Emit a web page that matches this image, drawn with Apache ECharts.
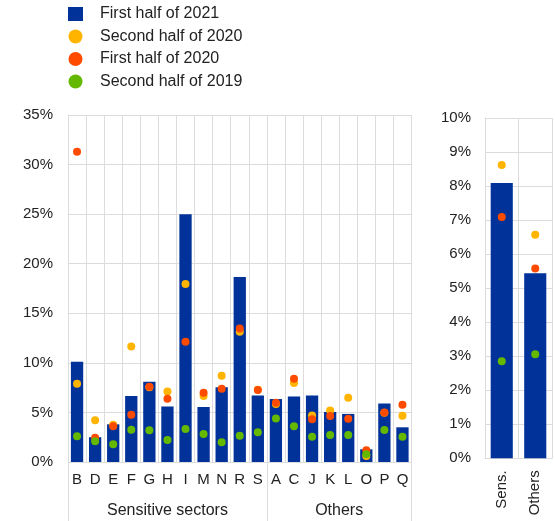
<!DOCTYPE html>
<html>
<head>
<meta charset="utf-8">
<script src="https://cdn.jsdelivr.net/npm/echarts@6/dist/echarts.min.js"></script>
<style>
  html, body { margin: 0; padding: 0; background: #ffffff; }
  #chart { width: 555px; height: 521px; }
</style>
</head>
<body>
<div id="chart"></div>
<script>
// ---- Data ----
const sectorCategories = ['B','D','E','F','G','H','I','M','N','R','S','A','C','J','K','L','O','P','Q'];
const groupNames = ['Sensitive sectors', 'Others'];
const groupSizes = [11, 8];

const seriesNames = ['First half of 2021', 'Second half of 2020', 'First half of 2020', 'Second half of 2019'];

const sectorH1_2021 = [10.1, 2.5, 3.8, 6.65, 8.1, 5.6, 25.0, 5.55, 7.55, 18.65, 6.7, 6.35, 6.6, 6.7, 5.05, 4.85, 1.28, 5.9, 3.5];
const sectorH2_2020 = [7.9, 4.2, 3.75, 11.65, 7.55, 7.1, 17.95, 6.65, 8.7, 13.13, 7.3, 5.85, 7.96, 4.7, 5.2, 6.48, 0.6, 4.97, 4.67];
const sectorH1_2020 = [31.3, 2.45, 3.6, 4.77, 7.6, 6.38, 12.13, 6.99, 7.39, 13.47, 7.26, 5.98, 8.4, 4.3, 4.64, 4.37, 1.18, 5.0, 5.78];
const sectorH2_2019 = [2.6, 2.1, 1.8, 3.26, 3.2, 2.22, 3.33, 2.82, 1.98, 2.65, 2.99, 4.4, 3.6, 2.55, 2.72, 2.72, 0.78, 3.22, 2.55];

const aggCategories = ['Sens.', 'Others'];
const aggH1_2021 = [8.09, 5.44];
const aggH2_2020 = [8.62, 6.57];
const aggH1_2020 = [7.09, 5.58];
const aggH2_2019 = [2.85, 3.06];

const leftTicks = { min: 0, max: 35, interval: 5 };
const rightTicks = { min: 0, max: 10, interval: 1 };

// ---- Styling ----
const FONT = 'Liberation Sans, Arial, sans-serif';
const TEXT = '#222222';
const GRID = '#dcdcdc';
const COLORS = ['#003299', '#ffb400', '#ff4b00', '#65b800'];

const W = 555, H = 521;
const leftGrid = { left: 68, top: 115, right: 143.5, bottom: 59 };
const rightGrid = { left: 485, top: 118, right: 3, bottom: 62.7 };
const band = (W - leftGrid.left - leftGrid.right) / sectorCategories.length;

// group label axis: one label per group, centred on its span
const groupStarts = [];
let acc = 0;
groupSizes.forEach(n => { groupStarts.push(acc); acc += n; });
const groupAxisData = sectorCategories.map(() => '');
groupNames.forEach((name, g) => {
  const s = groupStarts[g], n = groupSizes[g];
  if (n % 2 === 1) {
    groupAxisData[s + (n - 1) / 2] = name;
  } else {
    groupAxisData[s + n / 2] = { value: name, textStyle: { padding: [0, band, 0, 0] } };
  }
});
const boundaryIdx = groupStarts.slice();

const chart = echarts.init(document.getElementById('chart'), null, { renderer: 'canvas' });

const option = {
  animation: false,
  backgroundColor: '#ffffff',
  textStyle: { fontFamily: FONT, color: TEXT },
  legend: {
    orient: 'vertical',
    left: 68,
    top: 6,
    padding: 0,
    itemWidth: 15,
    itemHeight: 14,
    itemGap: 6.5,
    selectedMode: false,
    textStyle: { fontSize: 16, color: TEXT, fontFamily: FONT, padding: [0, 0, 0, 12] },
    data: [
      { name: seriesNames[0], icon: 'rect' },
      { name: seriesNames[1], icon: 'circle' },
      { name: seriesNames[2], icon: 'circle' },
      { name: seriesNames[3], icon: 'circle' }
    ]
  },
  grid: [
    Object.assign({ containLabel: false }, leftGrid),
    Object.assign({ containLabel: false }, rightGrid)
  ],
  xAxis: [
    {
      type: 'category', gridIndex: 0, data: sectorCategories,
      axisLine: { show: true, lineStyle: { color: GRID, width: 1 } },
      axisTick: { show: true, interval: (i) => boundaryIdx.indexOf(i) >= 0, length: 59, lineStyle: { color: GRID, width: 1 } },
      axisLabel: { interval: 0, margin: 10, fontSize: 15, color: TEXT, fontFamily: FONT },
      splitLine: { show: true, interval: 0, lineStyle: { color: GRID, width: 1 } }
    },
    {
      type: 'category', gridIndex: 0, position: 'bottom', data: groupAxisData,
      axisLine: { show: false }, axisTick: { show: false },
      axisLabel: { interval: 0, margin: 41, fontSize: 16, color: TEXT, fontFamily: FONT, hideOverlap: false },
      splitLine: { show: false }
    },
    {
      type: 'category', gridIndex: 1, data: aggCategories,
      axisLine: { show: true, lineStyle: { color: GRID, width: 1 } },
      axisTick: { show: false },
      axisLabel: { interval: 0, rotate: 90, margin: 12, fontSize: 15, color: TEXT, fontFamily: FONT },
      splitLine: { show: true, interval: 0, lineStyle: { color: GRID, width: 1 } }
    }
  ],
  yAxis: [
    {
      type: 'value', gridIndex: 0, min: leftTicks.min, max: leftTicks.max, interval: leftTicks.interval,
      axisLine: { show: true, lineStyle: { color: GRID, width: 1 } },
      axisTick: { show: false },
      axisLabel: { formatter: '{value}%', margin: 15, fontSize: 15, color: TEXT, fontFamily: FONT },
      splitLine: { show: true, lineStyle: { color: GRID, width: 1 } }
    },
    {
      type: 'value', gridIndex: 1, min: rightTicks.min, max: rightTicks.max, interval: rightTicks.interval,
      axisLine: { show: true, lineStyle: { color: GRID, width: 1 } },
      axisTick: { show: false },
      axisLabel: { formatter: '{value}%', margin: 14, fontSize: 15, color: TEXT, fontFamily: FONT },
      splitLine: { show: true, lineStyle: { color: GRID, width: 1 } }
    }
  ],
  series: [
    { name: seriesNames[0], type: 'bar', xAxisIndex: 0, yAxisIndex: 0, data: sectorH1_2021, barWidth: '68%', itemStyle: { color: COLORS[0] }, z: 2 },
    { name: seriesNames[1], type: 'scatter', xAxisIndex: 0, yAxisIndex: 0, data: sectorH2_2020, symbolSize: 8, itemStyle: { color: COLORS[1], opacity: 1 }, z: 3 },
    { name: seriesNames[2], type: 'scatter', xAxisIndex: 0, yAxisIndex: 0, data: sectorH1_2020, symbolSize: 8, itemStyle: { color: COLORS[2], opacity: 1 }, z: 4 },
    { name: seriesNames[3], type: 'scatter', xAxisIndex: 0, yAxisIndex: 0, data: sectorH2_2019, symbolSize: 8, itemStyle: { color: COLORS[3], opacity: 1 }, z: 5 },

    { name: seriesNames[0], type: 'bar', xAxisIndex: 2, yAxisIndex: 1, data: aggH1_2021, barWidth: '66%', itemStyle: { color: COLORS[0] }, z: 2 },
    { name: seriesNames[1], type: 'scatter', xAxisIndex: 2, yAxisIndex: 1, data: aggH2_2020, symbolSize: 8, itemStyle: { color: COLORS[1], opacity: 1 }, z: 3 },
    { name: seriesNames[2], type: 'scatter', xAxisIndex: 2, yAxisIndex: 1, data: aggH1_2020, symbolSize: 8, itemStyle: { color: COLORS[2], opacity: 1 }, z: 4 },
    { name: seriesNames[3], type: 'scatter', xAxisIndex: 2, yAxisIndex: 1, data: aggH2_2019, symbolSize: 8, itemStyle: { color: COLORS[3], opacity: 1 }, z: 5 }
  ]
};

chart.setOption(option);
</script>
</body>
</html>
